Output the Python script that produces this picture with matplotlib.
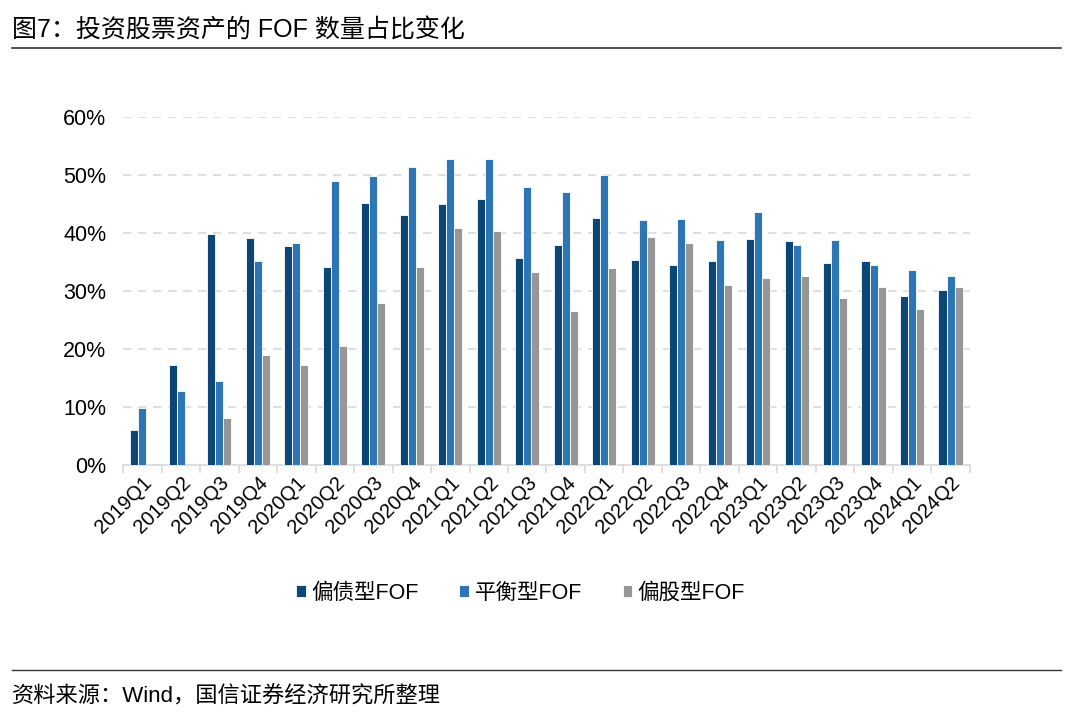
import numpy as np
import matplotlib.pyplot as plt
from matplotlib.ticker import PercentFormatter, FixedLocator

plt.rcParams['font.family'] = ['Liberation Sans', 'Noto Sans CJK SC']

quarters = ['2019Q1', '2019Q2', '2019Q3', '2019Q4', '2020Q1', '2020Q2', '2020Q3', '2020Q4',
            '2021Q1', '2021Q2', '2021Q3', '2021Q4', '2022Q1', '2022Q2', '2022Q3', '2022Q4',
            '2023Q1', '2023Q2', '2023Q3', '2023Q4', '2024Q1', '2024Q2']
bond_fof = [6.0, 17.2, 39.8, 39.1, 37.8, 34.1, 45.1, 43.1, 44.9, 45.9, 35.6, 38.0,
            42.6, 35.4, 34.4, 35.2, 39.0, 38.6, 34.9, 35.1, 29.1, 30.1]
balanced_fof = [9.8, 12.8, 14.5, 35.1, 38.3, 48.9, 49.8, 51.3, 52.7, 52.7, 47.9, 47.0,
                49.9, 42.2, 42.4, 38.7, 43.6, 38.0, 38.7, 34.5, 33.6, 32.6]
equity_fof = [0, 0, 8.1, 18.9, 17.2, 20.5, 27.9, 34.1, 40.9, 40.3, 33.2, 26.6,
              33.9, 39.3, 38.2, 31.0, 32.3, 32.5, 28.8, 30.6, 26.9, 30.6]

series = [('偏债型FOF', bond_fof, '#0b4677'),
          ('平衡型FOF', balanced_fof, '#2e75b6'),
          ('偏股型FOF', equity_fof, '#969696')]

fig = plt.figure(figsize=(10.8, 7.26), dpi=100)
ax = fig.add_axes([0.114, 0.3595, 0.784, 0.4795])

x = np.arange(len(quarters))
w = 0.21
for i, (name, vals, color) in enumerate(series):
    ax.bar(x + (i - 1) * w, vals, width=w, color=color, edgecolor='white',
           linewidth=0.6, label=name, zorder=3)

ax.set_xlim(-0.5, len(quarters) - 0.5)
ax.set_ylim(0, 60)
ax.set_yticks(np.arange(0, 61, 10))
ax.yaxis.set_major_formatter(PercentFormatter(decimals=0))
ax.grid(axis='y', color='#d9d9d9', linestyle=(0, (5, 4)), linewidth=1.2, zorder=0)

ax.set_xticks(x)
ax.set_xticklabels(quarters, rotation=45, ha='right', rotation_mode='anchor', fontsize=14.5)
ax.tick_params(axis='x', which='major', length=0, pad=6)
ax.xaxis.set_minor_locator(FixedLocator(np.arange(-0.5, len(quarters), 1)))
ax.tick_params(axis='x', which='minor', length=6, color='#d9d9d9', width=1.2)
ax.tick_params(axis='y', length=0, labelsize=15.5, pad=12)

for s in ['top', 'right', 'left']:
    ax.spines[s].set_visible(False)
ax.spines['bottom'].set_color('#d9d9d9')
ax.spines['bottom'].set_linewidth(1.2)

fig.legend(loc='center', bbox_to_anchor=(0.482, 0.183), ncol=3, frameon=False,
           fontsize=15.5, handlelength=0.45, handleheight=0.45, handletextpad=0.25,
           columnspacing=1.9)

fig.text(0.011, 0.958, '图7：投资股票资产的 FOF 数量占比变化', fontsize=18, va='center', ha='left')
fig.add_artist(plt.Line2D([0.011, 0.982], [0.934, 0.934], color='#333333', linewidth=1.2))
fig.add_artist(plt.Line2D([0.011, 0.982], [0.077, 0.077], color='#333333', linewidth=1.0))
fig.text(0.011, 0.040, '资料来源：Wind，国信证券经济研究所整理', fontsize=16, va='center', ha='left')

fig.savefig('out.png', dpi=100)
